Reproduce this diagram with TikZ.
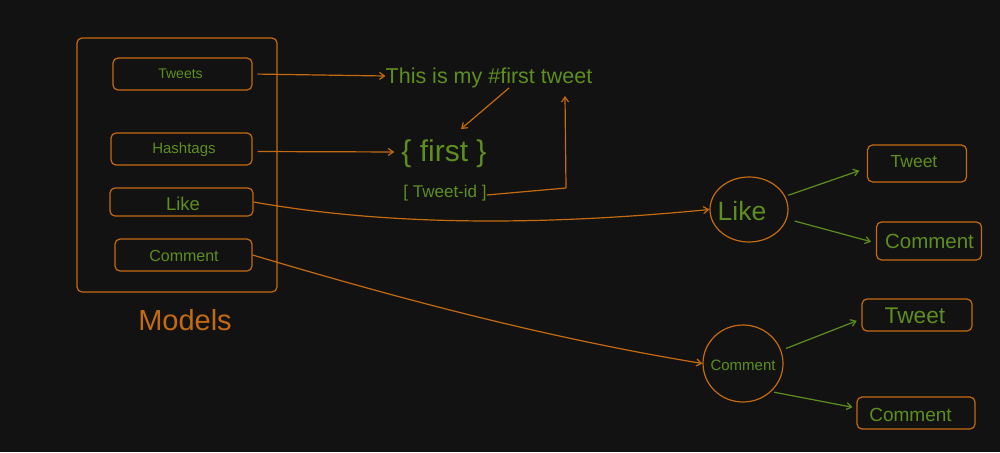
\documentclass[tikz,border=0pt]{standalone}
\usepackage{fontspec}
\setmainfont{Liberation Sans}
\usetikzlibrary{arrows.meta,shapes.geometric}
\definecolor{bg}{HTML}{121212}
\definecolor{org}{HTML}{C46A10}
\definecolor{grn}{HTML}{5E8E20}
\tikzset{
  box/.style={draw=org,line width=1.2pt,rounded corners=5pt,text=grn,inner sep=0pt,anchor=center},
  circ/.style={draw=org,line width=1.2pt,ellipse,inner sep=0pt,anchor=center},
  txt/.style={text=grn,inner sep=0pt,anchor=center},
  oarr/.style={draw=org,line width=1.2pt,-{Straight Barb[length=5pt,width=7pt]}},
  garr/.style={draw=grn,line width=1.2pt,-{Straight Barb[length=5pt,width=7pt]}},
}
\begin{document}
\begin{tikzpicture}[x=1pt,y=-1pt]
\fill[bg] (0,0) rectangle (1000,452);
\useasboundingbox (0,0) rectangle (1000,452);
% left model container
\node[box,minimum width=200pt,minimum height=254pt] (models) at (177,165) {};
\node[txt,text=org,font=\fontsize{29}{31}\selectfont] (modelslbl) at (185,320) {Models};
\node[box,minimum width=139pt,minimum height=32pt] (tweets) at (182.5,74) {};
\node[txt,font=\fontsize{14}{16}\selectfont] (tweetslbl) at (180.5,74) {Tweets};
\node[box,minimum width=141pt,minimum height=32pt] (hashtags) at (181.5,149) {};
\node[txt,font=\fontsize{15}{17}\selectfont] (hashtagslbl) at (184,150) {Hashtags};
\node[box,minimum width=143pt,minimum height=28pt] (like) at (181.5,202) {};
\node[txt,font=\fontsize{18.5}{20}\selectfont] (likeboxlbl) at (183,204) {Like};
\node[box,minimum width=137pt,minimum height=32pt] (comment) at (183.5,255) {};
\node[txt,font=\fontsize{16}{18}\selectfont] (commentboxlbl) at (184,256) {Comment};
% middle texts
\node[txt,font=\fontsize{21.5}{23}\selectfont] (tweettext) at (489,78) {This is my \#first tweet};
\node[txt,font=\fontsize{30}{32}\selectfont] (first) at (444,154) {\{ first \}};
\node[txt,font=\fontsize{17}{19}\selectfont] (tweetid) at (445,193) {[ Tweet-id ]};
% right side
\node[circ,minimum width=78pt,minimum height=65pt] (likec) at (749,209.5) {};
\node[txt,font=\fontsize{26.5}{28}\selectfont] (likelbl) at (742,211) {Like};
\node[circ,minimum width=80pt,minimum height=77pt] (commentc) at (743,363.5) {};
\node[txt,font=\fontsize{15}{17}\selectfont] (commentlbl) at (743,365) {Comment};
\node[box,minimum width=99pt,minimum height=37pt] (tweetA) at (917,163.5) {};
\node[txt,font=\fontsize{17.5}{19}\selectfont] (tweetAlbl) at (914,162) {Tweet};
\node[box,minimum width=105pt,minimum height=38pt] (commentA) at (929,241) {};
\node[txt,font=\fontsize{20.5}{22}\selectfont] (commentAlbl) at (929.5,241) {Comment};
\node[box,minimum width=110pt,minimum height=32pt] (tweetB) at (917,315) {};
\node[txt,font=\fontsize{22.7}{24}\selectfont] (tweetBlbl) at (915,316) {Tweet};
\node[box,minimum width=118pt,minimum height=32pt] (commentB) at (916,413) {};
\node[txt,font=\fontsize{19}{21}\selectfont] (commentBlbl) at (910.5,415) {Comment};
% helper coordinates
\coordinate (tt1) at (509,88);
\coordinate (ff1) at (461,129);
\coordinate (bend) at (566,188);
\coordinate (up) at (565,96);
% orange connectors
\draw[oarr,shorten <=5pt] (tweets.east) -- ([yshift=2pt]tweettext.west);
\draw[oarr,shorten <=5pt,shorten >=7pt] ([yshift=-2.5pt]hashtags.east) -- ([yshift=2pt]first.west);
\draw[oarr] (tt1) -- (ff1);
\draw[draw=org,line width=1.2pt] ([yshift=-2pt]tweetid.east) -- (bend);
\draw[oarr] (bend) -- (up);
\draw[oarr] (like.east) .. controls (400,228) and (560,224) .. (likec.west);
\draw[oarr] (comment.east) .. controls (420,305) and (560,340) .. (commentc.west);
% green connectors
\draw[garr,shorten <=3pt,shorten >=8pt] (likec.20) -- ([yshift=-4.5pt]tweetA.west);
\draw[garr,shorten <=8pt,shorten >=5pt] (likec.-14) -- ([yshift=-2pt]commentA.west);
\draw[garr,shorten <=5pt,shorten >=5pt] (commentc.19) -- ([yshift=-4pt]tweetB.west);
\draw[garr,shorten <=3pt,shorten >=4pt] (commentc.-45) -- ([yshift=5pt]commentB.west);
\end{tikzpicture}
\end{document}
